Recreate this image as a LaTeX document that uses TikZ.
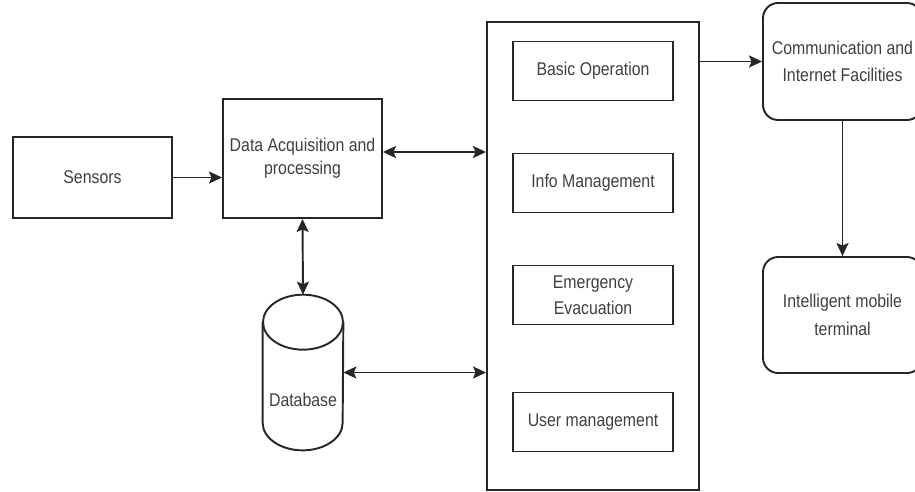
\documentclass[tikz,border=0pt]{standalone}
\usepackage{fontspec}
\setmainfont{Liberation Sans}[FakeStretch=0.86]
\usetikzlibrary{arrows.meta,positioning}

\begin{document}
\begin{tikzpicture}[
    x=0.02cm, y=-0.02cm,
    every node/.style={
        text=black!75,
        align=center,
        font=\fontsize{10.5}{13}\selectfont
    },
    box/.style={
        draw=black!85, line width=1.1pt,
        inner sep=0pt
    },
    rbox/.style={box, rounded corners=0.3cm,
        font=\fontsize{10.5}{15.5}\selectfont},
    sub/.style={box, minimum width=3.2cm, minimum height=1.18cm},
    conn/.style={draw=black!85, line width=1.1pt,
        -{Stealth[length=2.6mm,width=2.4mm,inset=0.5mm]}},
    both/.style={conn,
        {Stealth[length=2.6mm,width=2.4mm,inset=0.5mm]}-{Stealth[length=2.6mm,width=2.4mm,inset=0.5mm]}}
]
\useasboundingbox (0,0) rectangle (915,491);

% left side
\node[box, minimum width=3.18cm, minimum height=1.62cm] (sensors) at (92.5,177.5) {Sensors};
\node[box, minimum width=3.18cm, minimum height=2.38cm] (daq) at (302.5,158.5)
    {Data Acquisition and\\processing};
\node[minimum width=1.6cm, minimum height=3.1cm, inner sep=0pt] (db) at (303,372.5) {};
\draw[box] ([yshift=-0.55cm]db.north west) -- ([yshift=0.55cm]db.south west)
    arc[start angle=180, end angle=360, x radius=0.8cm, y radius=0.55cm]
    -- ([yshift=-0.55cm]db.north east);
\draw[box] ([yshift=-0.55cm]db.north) ellipse [x radius=0.8cm, y radius=0.55cm];
\node at ([yshift=-0.55cm]db.center) {Database};

% middle block
\node[box, minimum width=4.24cm, minimum height=9.36cm] (platform) at (593,256) {};
\node[sub] (basic) at (593,71) {Basic Operation};
\node[sub] (info) at (593,183) {Info Management};
\node[sub, font=\fontsize{10.5}{15}\selectfont] (emerg) at (593,295) {Emergency\\Evacuation};
\node[sub] (user) at (593,422) {User management};

% right side
\node[rbox, minimum width=3.18cm, minimum height=2.34cm] (comm) at (842.5,61.5)
    {Communication and\\Internet Facilities};
\node[rbox, minimum width=3.18cm, minimum height=2.32cm] (mobile) at (842.5,315)
    {Intelligent mobile\\terminal};

% connectors
\draw[conn] (sensors.east) -- (sensors.east -| daq.west);
\draw[both] ([yshift=0.13cm]daq.east) -- ([yshift=0.13cm]daq.east -| platform.west);
\draw[both] (daq.south) -- (db.north);
\draw[both] (db.east) -- (db.east -| platform.west);
\draw[conn] (comm.west -| platform.east) -- (comm.west);
\draw[conn] (comm.south) -- (mobile.north);
\end{tikzpicture}
\end{document}
